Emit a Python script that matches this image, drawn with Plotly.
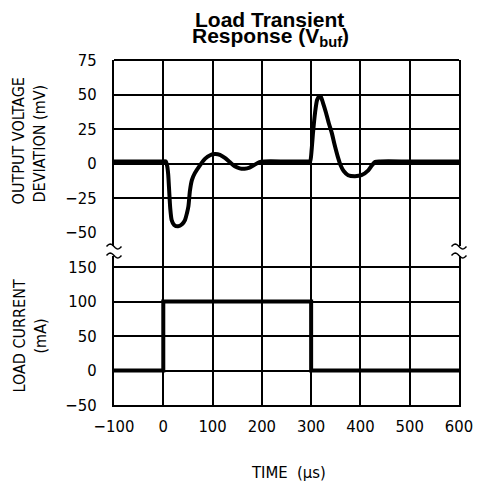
import math
import plotly.graph_objects as go

# ---- data ----
time_v = [-100, -50, 0, 5, 8, 10, 12, 14, 17, 22, 30, 38, 44, 48, 51, 54, 58, 64, 74, 85, 95,
          105, 115, 125, 135, 145, 155, 165, 175, 185, 195, 205, 250, 294, 298, 301, 304, 308,
          312, 316, 320, 324, 330, 336, 342, 348, 354, 360, 366, 375, 389, 402, 416, 424,
          430, 440, 500, 600]
vout_dev = [1.5, 1.5, 1.5, 1.5, -2, -8, -20, -32, -41, -44.5, -45.5, -44, -41, -36, -31, -20,
            -12, -7, -1.5, 3.5, 6, 6.8, 6.2, 4, 1, -2, -3.5, -3.8, -3, -1, 1, 1.5, 1.5, 1.5,
            1.5, 10, 23, 37, 46, 48.5, 48, 44, 37, 29, 22, 13, 5, -1.5, -5.5, -8.5, -9.2, -8.5,
            -5, -1, 1.2, 1.5, 1.5, 1.5]

time_i = [-100, 0, 300, 600]
load_current = [0, 100, 0, 0]

x_ticks = [-100, 0, 100, 200, 300, 400, 500, 600]
v_ticks = [-50, -25, 0, 25, 50, 75]
i_ticks = [-50, 0, 50, 100, 150]

# ---- layout geometry (pixels) ----
W, H = 479, 485
PW, PH = 345, 345
ML, MT = 114, 60
MR = W - ML - PW
MB = H - MT - PH


def px(xs):
    return (xs - ML) / PW


def py(ys):
    return 1 - (ys - MT) / PH


TICK_FONT = dict(family="DejaVu Sans Condensed, DejaVu Sans", size=16.5, color="black")
LAB_FONT = dict(family="DejaVu Sans Condensed, DejaVu Sans", size=16, color="black")
LINE = dict(color="black", width=4)

fig = go.Figure()
fig.add_trace(go.Scatter(x=time_v, y=vout_dev, mode="lines",
                         line=dict(LINE, shape="spline", smoothing=0.6),
                         xaxis="x2", yaxis="y2", showlegend=False, hoverinfo="skip"))
fig.add_trace(go.Scatter(x=time_i, y=load_current, mode="lines", line=dict(LINE, shape="hv"),
                         xaxis="x", yaxis="y", showlegend=False, hoverinfo="skip"))

common_x = dict(range=[-100, 600], tickvals=x_ticks, showgrid=True, gridcolor="black", gridwidth=1.5,
                zeroline=False, linecolor="black", linewidth=2,
                ticks="", tickfont=TICK_FONT, ticklabelstandoff=5, fixedrange=True)
common_y = dict(showgrid=True, gridcolor="black", gridwidth=1.5, zeroline=False,
                showline=True, linecolor="black", linewidth=2, mirror=True, ticks="",
                tickfont=TICK_FONT, ticklabelstandoff=12, fixedrange=True)

fig.update_layout(
    width=W, height=H,
    margin=dict(l=ML, r=MR, t=MT, b=MB, autoexpand=False),
    paper_bgcolor="white", plot_bgcolor="white",
    xaxis=dict(common_x, domain=[0, 1], anchor="y", showline=True, mirror=False,
               ticktext=["\u2212100", "0", "100", "200", "300", "400", "500", "600"]),
    xaxis2=dict(common_x, domain=[0, 1], anchor="y2", showline=False, showticklabels=False,
                matches="x"),
    yaxis=dict(common_y, domain=[0, 0.5], range=[-50, 200], tickvals=i_ticks,
               ticktext=["\u221250", "0", "50", "100", "150"], anchor="x"),
    yaxis2=dict(common_y, domain=[0.5, 1], range=[-50, 75], tickvals=v_ticks,
                ticktext=["\u221250", "\u221225", "0", "25", "50", "75"], anchor="x2"),
)

# top edge of the frame
fig.add_shape(type="line", xref="paper", yref="paper", x0=0, x1=1, y0=1, y1=1,
              line=dict(color="black", width=2), layer="above")

# ---- titles ----
TITLE_FONT = dict(family="Liberation Sans, Arial, sans-serif", size=21, color="black")
fig.add_annotation(text="<b>Load Transient</b>", x=px(269), y=py(19.5), xref="paper", yref="paper",
                   showarrow=False, xanchor="center", yanchor="middle", font=TITLE_FONT)
fig.add_annotation(text="<b>Response (V<sub>buf</sub>)</b>", x=px(270), y=py(36.5), xref="paper",
                   yref="paper", showarrow=False, xanchor="center", yanchor="middle", font=TITLE_FONT)

for txt, xc, yc in [("OUTPUT VOLTAGE", 18.4, 141), ("DEVIATION (mV)", 38.5, 144),
                    ("LOAD CURRENT", 18.5, 336), ("(mA)", 39.5, 336)]:
    fig.add_annotation(text=txt, x=px(xc), y=py(yc), xref="paper", yref="paper", showarrow=False,
                       textangle=-90, xanchor="center", yanchor="middle", font=LAB_FONT)

fig.add_annotation(text="TIME\u00a0\u00a0(\u03bcs)", x=px(288.3), y=py(472), xref="paper", yref="paper",
                   showarrow=False, xanchor="center", yanchor="middle",
                   font=dict(LAB_FONT, size=16.5))

# ---- axis break marks ----
for xc in (114, 459):
    fig.add_shape(type="rect", xref="paper", yref="paper", x0=px(xc - 3), x1=px(xc + 3),
                  y0=py(256), y1=py(246), fillcolor="white", line=dict(width=0), layer="above")
    for yc in (246.5, 255.5):
        pts = []
        for k in range(13):
            xx = xc - 7.5 + 15 * k / 12
            yy = yc - 2.5 * math.sin(2 * math.pi * k / 12)
            pts.append(f"{px(xx):.5f},{py(yy):.5f}")
        path = "M " + " L ".join(pts)
        fig.add_shape(type="path", xref="paper", yref="paper", path=path,
                      line=dict(color="black", width=1.5), layer="above")

fig.write_html("out.html", config={"displayModeBar": False},
               post_script="document.body.style.margin='0';document.body.style.overflow='hidden';")
